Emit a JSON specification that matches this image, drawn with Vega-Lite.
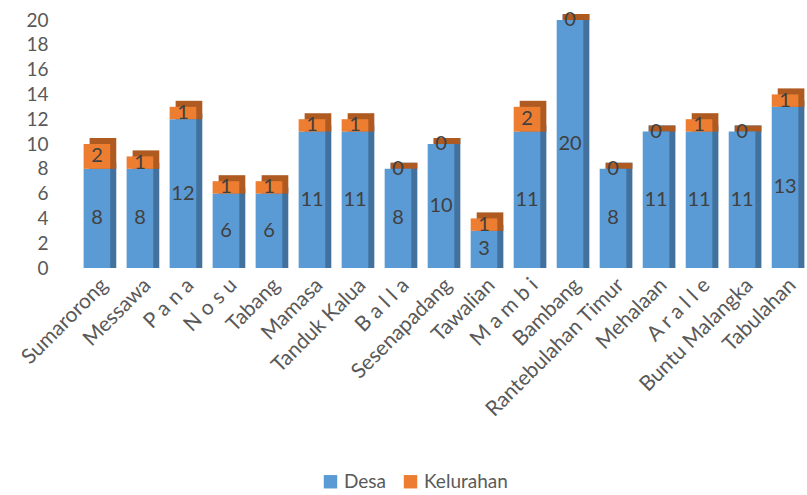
{
  "$schema": "https://vega.github.io/schema/vega-lite/v6.json",
  "autosize": "none",
  "width": 732,
  "height": 248,
  "padding": {"left": 75, "top": 20, "right": 0, "bottom": 227},
  "background": "white",
  "config": {
    "font": "Lato",
    "view": {"stroke": null},
    "axis": {"labelFont": "Lato", "labelColor": "#595959", "grid": false, "domain": false, "ticks": false, "title": null}
  },
  "data": {
    "values": [
      {"kecamatan": "Sumarorong", "jenis": "Desa", "jumlah": 8},
      {"kecamatan": "Sumarorong", "jenis": "Kelurahan", "jumlah": 2},
      {"kecamatan": "Messawa", "jenis": "Desa", "jumlah": 8},
      {"kecamatan": "Messawa", "jenis": "Kelurahan", "jumlah": 1},
      {"kecamatan": "P a n a", "jenis": "Desa", "jumlah": 12},
      {"kecamatan": "P a n a", "jenis": "Kelurahan", "jumlah": 1},
      {"kecamatan": "N o s u", "jenis": "Desa", "jumlah": 6},
      {"kecamatan": "N o s u", "jenis": "Kelurahan", "jumlah": 1},
      {"kecamatan": "Tabang", "jenis": "Desa", "jumlah": 6},
      {"kecamatan": "Tabang", "jenis": "Kelurahan", "jumlah": 1},
      {"kecamatan": "Mamasa", "jenis": "Desa", "jumlah": 11},
      {"kecamatan": "Mamasa", "jenis": "Kelurahan", "jumlah": 1},
      {"kecamatan": "Tanduk Kalua", "jenis": "Desa", "jumlah": 11},
      {"kecamatan": "Tanduk Kalua", "jenis": "Kelurahan", "jumlah": 1},
      {"kecamatan": "B a l l a", "jenis": "Desa", "jumlah": 8},
      {"kecamatan": "B a l l a", "jenis": "Kelurahan", "jumlah": 0},
      {"kecamatan": "Sesenapadang", "jenis": "Desa", "jumlah": 10},
      {"kecamatan": "Sesenapadang", "jenis": "Kelurahan", "jumlah": 0},
      {"kecamatan": "Tawalian", "jenis": "Desa", "jumlah": 3},
      {"kecamatan": "Tawalian", "jenis": "Kelurahan", "jumlah": 1},
      {"kecamatan": "M a m b i", "jenis": "Desa", "jumlah": 11},
      {"kecamatan": "M a m b i", "jenis": "Kelurahan", "jumlah": 2},
      {"kecamatan": "Bambang", "jenis": "Desa", "jumlah": 20},
      {"kecamatan": "Bambang", "jenis": "Kelurahan", "jumlah": 0},
      {"kecamatan": "Rantebulahan Timur", "jenis": "Desa", "jumlah": 8},
      {"kecamatan": "Rantebulahan Timur", "jenis": "Kelurahan", "jumlah": 0},
      {"kecamatan": "Mehalaan", "jenis": "Desa", "jumlah": 11},
      {"kecamatan": "Mehalaan", "jenis": "Kelurahan", "jumlah": 0},
      {"kecamatan": "A r a l l e", "jenis": "Desa", "jumlah": 11},
      {"kecamatan": "A r a l l e", "jenis": "Kelurahan", "jumlah": 1},
      {"kecamatan": "Buntu Malangka", "jenis": "Desa", "jumlah": 11},
      {"kecamatan": "Buntu Malangka", "jenis": "Kelurahan", "jumlah": 0},
      {"kecamatan": "Tabulahan", "jenis": "Desa", "jumlah": 13},
      {"kecamatan": "Tabulahan", "jenis": "Kelurahan", "jumlah": 1}
    ]
  },
  "transform": [
    {"stack": "jumlah", "groupby": ["kecamatan"], "sort": [{"field": "jenis", "order": "ascending"}], "as": ["y0", "y1"]},
    {"calculate": "(datum.y0 + datum.y1) / 2", "as": "ymid"}
  ],
  "encoding": {
    "x": {
      "field": "kecamatan",
      "type": "nominal",
      "sort": null,
      "scale": {"paddingInner": 0.38, "paddingOuter": 0.2},
      "axis": {"labelAngle": -45, "labelFontSize": 21, "labelPadding": 6, "labelLimit": 300}
    },
    "y": {
      "field": "y1",
      "type": "quantitative",
      "scale": {"domain": [0, 20]},
      "axis": {"values": [0, 2, 4, 6, 8, 10, 12, 14, 16, 18, 20], "labelFontSize": 19, "labelPadding": 27, "labelOverlap": false, "labelBound": false}
    }
  },
  "layer": [
    {
      "mark": {"type": "bar", "xOffset": 6, "yOffset": -6},
      "encoding": {
        "y2": {"field": "y0"},
        "color": {"field": "jenis", "type": "nominal", "scale": {"domain": ["Desa", "Kelurahan"], "range": ["#41719C", "#AE5A21"]}, "legend": null}
      }
    },
    {
      "mark": {"type": "bar"},
      "encoding": {
        "y2": {"field": "y0"},
        "fill": {
          "field": "jenis",
          "type": "nominal",
          "scale": {"domain": ["Desa", "Kelurahan"], "range": ["#5B9BD5", "#ED7D31"]},
          "legend": {"title": null, "orient": "none", "legendX": 246, "legendY": 452, "direction": "horizontal", "symbolType": "square", "symbolSize": 180, "labelFontSize": 19, "labelColor": "#595959", "columnPadding": 14, "labelFont": "Lato"}
        }
      }
    },
    {
      "mark": {"type": "text", "fontSize": 20, "color": "#404040", "baseline": "middle"},
      "encoding": {
        "y": {"field": "ymid", "type": "quantitative"},
        "text": {"field": "jumlah", "type": "quantitative"}
      }
    }
  ],
  "resolve": {"scale": {"color": "independent"}}
}
